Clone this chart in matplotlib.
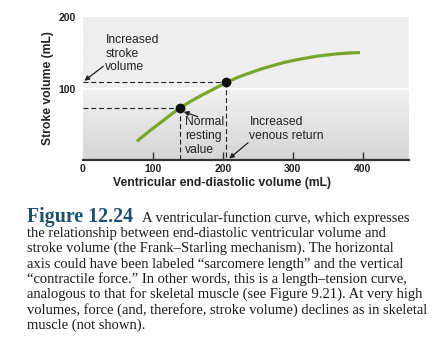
import numpy as np
import matplotlib
matplotlib.use('Agg')
import matplotlib.pyplot as plt

# data
curve_x = [77, 96, 115, 138, 155, 172, 190, 206, 222, 239, 257, 275, 286, 305, 334, 360, 380, 396]
curve_y = [28, 43, 57, 74, 84, 93, 102, 110, 117, 123, 129, 134, 137, 141, 146, 149, 150.5, 151]
point_x = [139, 205]
point_y = [74, 110]
x_ticks = [0, 100, 200, 300, 400]
y_ticks = [100, 200]

caption_head = 'Figure 12.24'
caption_lines = [
    'A ventricular-function curve, which expresses',
    'the relationship between end-diastolic ventricular volume and',
    'stroke volume (the Frank\u2013Starling mechanism). The horizontal',
    'axis could have been labeled \u201csarcomere length\u201d and the vertical',
    '\u201ccontractile force.\u201d In other words, this is a length\u2013tension curve,',
    'analogous to that for skeletal muscle (see Figure 9.21). At very high',
    'volumes, force (and, therefore, stroke volume) declines as in skeletal',
    'muscle (not shown).',
]

W, H = 439, 352
fig = plt.figure(figsize=(W / 100, H / 100), dpi=100)
fig.patch.set_facecolor('white')

def fx(px):
    return px / W

def fy(py):
    return 1 - py / H

ax = fig.add_axes([fx(83), fy(160), (409 - 83) / W, (160 - 17.3) / H])
x0, x1, y0, y1 = 0, 466, 2, 200
ax.set_xlim(x0, x1)
ax.set_ylim(y0, y1)

# background: flat light gray on top, soft gradient below 100
n = 200
yy = np.linspace(y1, y0, n)
vals = np.where(yy > 100, 0.935, 0.945 - (100 - yy) / 98 * 0.11)
bg = np.repeat(vals[:, None], 2, axis=1)
ax.imshow(bg, cmap='gray', vmin=0, vmax=1, extent=[x0, x1, y0, y1],
          aspect='auto', zorder=0, interpolation='bilinear')
ax.axhline(100, color='white', lw=1.6, zorder=1)

ink = '#222222'
for px, py in zip(point_x, point_y):
    ax.plot([0, px], [py, py], color=ink, lw=0.8, dashes=[4.5, 2.5], zorder=2)
    ax.plot([px, px], [py, y0], color=ink, lw=0.8, dashes=[4.5, 2.5], zorder=2)

ax.plot(curve_x, curve_y, color='#7aa52b', lw=2.3, solid_capstyle='butt',
        solid_joinstyle='round', zorder=3)
ax.plot(point_x, point_y, 'o', color='#111111', ms=6, zorder=4)

tfont = dict(family='Liberation Sans', size=8.7, color=ink, linespacing=1.2)
arr = dict(arrowstyle='-|>', lw=0.9, color=ink, mutation_scale=7, shrinkA=0, shrinkB=0)
ax.text(32, 177, 'Increased\nstroke\nvolume', ha='left', va='top', **tfont)
ax.annotate('', xy=(2, 112), xytext=(29, 132), arrowprops=arr)
ax.text(146, 63, 'Normal\nresting\nvalue', ha='left', va='top', **tfont)
ax.annotate('', xy=(144, 69), xytext=(164, 62), arrowprops=arr)
ax.text(238, 63, 'Increased\nvenous return', ha='left', va='top', **tfont)
ax.annotate('', xy=(209, 4), xytext=(236, 26), arrowprops=arr)

for side in ['left', 'right', 'top']:
    ax.spines[side].set_visible(False)
ax.spines['bottom'].set_color('#333333')
ax.spines['bottom'].set_linewidth(1.6)
ax.spines['bottom'].set_zorder(5)

ax.set_xticks(x_ticks)
ax.set_yticks(y_ticks)
ax.tick_params(axis='x', direction='in', length=6, width=1, color='#333333', pad=3)
ax.tick_params(axis='y', length=0, pad=5)
ax.xaxis.get_major_ticks()[0].tick1line.set_visible(False)
for lab in ax.get_xticklabels() + ax.get_yticklabels():
    lab.set_fontfamily('Liberation Sans')
    lab.set_fontweight('bold')
    lab.set_fontsize(7.5)
    lab.set_color(ink)

fig.text(fx(48), fy(88.5), 'Stroke volume (mL)', rotation=90, ha='center', va='center',
         family='Liberation Sans', weight='bold', size=8.7, color=ink)
fig.text(fx(222), fy(183), 'Ventricular end-diastolic volume (mL)', ha='center', va='center',
         family='Liberation Sans', weight='bold', size=8.7, color=ink)

# caption
fig.text(fx(27), fy(221.7), caption_head, ha='left', va='baseline',
         family='Liberation Serif', weight='bold', size=14.3, color='#1d4f6e')
for i, line in enumerate(caption_lines):
    x = 142 if i == 0 else 27
    fig.text(fx(x), fy(221.7 + 15.3 * i), line, ha='left', va='baseline',
             family='Liberation Serif', size=10.5, color='#1a1a1a')

fig.savefig('out.png', dpi=100)
